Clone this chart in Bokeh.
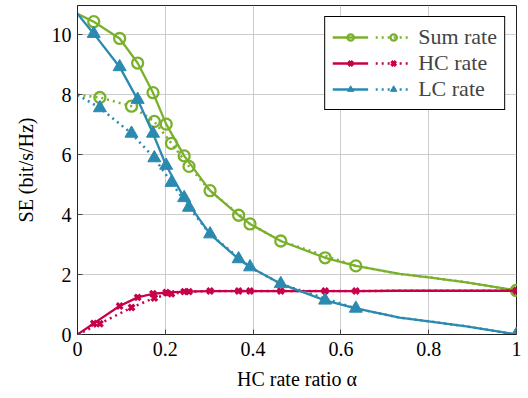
from bokeh.plotting import figure
from bokeh.models import Legend, LegendItem, FixedTicker, Range1d, NumeralTickFormatter
from bokeh.embed import file_html
from bokeh.resources import INLINE

# ---- data ----
alpha_solid = [0, 0.037, 0.096, 0.137, 0.172, 0.202, 0.243, 0.302, 0.367, 0.393, 0.463, 0.564, 0.634, 0.734, 0.8, 0.886, 1.0]
sum_solid = [10.70, 10.44, 9.88, 9.06, 8.07, 7.02, 5.96, 4.80, 3.98, 3.69, 3.12, 2.56, 2.29, 2.02, 1.91, 1.74, 1.47]
hc_solid = [0, 0.37, 0.95, 1.24, 1.36, 1.40, 1.43, 1.45, 1.45, 1.45, 1.45, 1.45, 1.45, 1.46, 1.46, 1.46, 1.46]
lc_solid = [10.70, 10.04, 8.93, 7.84, 6.71, 5.64, 4.56, 3.35, 2.52, 2.25, 1.69, 1.14, 0.87, 0.56, 0.44, 0.27, 0.0]
solid_marks = [1, 2, 3, 4, 5, 6, 7, 8, 10, 11, 16]

alpha_dot = [0, 0.051, 0.123, 0.175, 0.214, 0.254, 0.302, 0.393, 0.463, 0.634, 0.734, 0.8, 0.886, 1.0]
sum_dot = [8.00, 7.91, 7.62, 7.11, 6.38, 5.61, 4.80, 3.69, 3.12, 2.29, 2.02, 1.91, 1.74, 1.47]
hc_dot = [0, 0.36, 0.90, 1.22, 1.36, 1.43, 1.45, 1.45, 1.45, 1.45, 1.46, 1.46, 1.46, 1.46]
lc_dot = [8.00, 7.56, 6.71, 5.89, 5.07, 4.24, 3.35, 2.25, 1.69, 0.87, 0.56, 0.44, 0.27, 0.0]
dot_marks = [1, 2, 3, 4, 5, 7, 9, 13]

series_names = ["Sum rate", "HC rate", "LC rate"]
x_ticks = [0, 0.2, 0.4, 0.6, 0.8, 1.0]
y_ticks = [0, 2, 4, 6, 8, 10]
x_label = "HC rate ratio α"
y_label = "SE (bit/s/Hz)"

GREEN = "#7AB12C"
RED = "#C8004A"
BLUE = "#2A8AAF"
FONT = "Liberation Serif"

p = figure(width=524, height=396, output_backend="svg", toolbar_location=None,
           x_range=Range1d(0, 1), y_range=Range1d(0, 10.98),
           min_border_left=77, min_border_right=8, min_border_top=5, min_border_bottom=62)
p.background_fill_color = "white"
p.border_fill_color = "white"
p.outline_line_color = "#222222"
p.outline_line_width = 1
p.outline_line_alpha = 1

for ax in (p.xaxis[0], p.yaxis[0]):
    ax.major_tick_in = 5
    ax.major_tick_out = 0
    ax.minor_tick_line_color = None
    ax.axis_line_color = "#222222"
    ax.major_tick_line_color = "#444444"
    ax.major_label_text_font = FONT
    ax.major_label_text_font_size = "20px"
    ax.major_label_text_color = "black"
    ax.axis_label_text_font = FONT
    ax.axis_label_text_font_size = "20px"
    ax.axis_label_text_font_style = "normal"
    ax.axis_label_text_color = "black"

p.xaxis.ticker = FixedTicker(ticks=x_ticks)
p.xaxis.formatter = NumeralTickFormatter(format="0.[0]")
p.yaxis.ticker = FixedTicker(ticks=y_ticks)
p.xaxis.axis_label = x_label
p.yaxis.axis_label = y_label
p.xaxis.major_label_standoff = 7
p.xaxis.axis_label_standoff = 9
p.yaxis.major_label_standoff = 6
p.yaxis.axis_label_standoff = 12

p.xgrid.ticker = FixedTicker(ticks=x_ticks)
p.ygrid.ticker = FixedTicker(ticks=y_ticks)
p.grid.grid_line_color = "#cccccc"
p.grid.grid_line_width = 1

colors = [GREEN, RED, BLUE]
markers = ["circle", "x", "triangle"]
solid_vals = [sum_solid, hc_solid, lc_solid]
dot_vals = [sum_dot, hc_dot, lc_dot]

solid_items = []
dot_items = []
for name, col, mk, sv, dv in zip(series_names, colors, markers, solid_vals, dot_vals):
    if mk == "circle":
        mkw = dict(size=11, line_color=col, fill_color=None, line_width=2.3)
    elif mk == "x":
        mkw = dict(size=8, line_color=col, line_width=3.2)
    else:
        mkw = dict(size=13, line_color=col, fill_color=col, line_width=1)
    dl = p.line(alpha_dot, dv, line_color=col, line_width=2.5, line_dash="2 4")
    dm = p.scatter([alpha_dot[i] for i in dot_marks], [dv[i] for i in dot_marks], marker=mk, **mkw)
    sl = p.line(alpha_solid, sv, line_color=col, line_width=2.3)
    sm = p.scatter([alpha_solid[i] for i in solid_marks], [sv[i] for i in solid_marks], marker=mk, **mkw)
    solid_items.append(LegendItem(label=" ", renderers=[sl, sm]))
    dot_items.append(LegendItem(label=name, renderers=[dl, dm]))

legend = Legend(items=solid_items + dot_items, ncols=2, orientation="vertical",
                location="top_right", glyph_width=36, glyph_height=16,
                label_standoff=7, label_width=0, spacing=0, padding=7, margin=11,
                label_text_font=FONT, label_text_font_size="22px",
                border_line_color="black", border_line_width=1, border_line_alpha=1,
                background_fill_alpha=1)
p.add_layout(legend, "center")

open("out.html", "w").write(file_html(p, INLINE))
